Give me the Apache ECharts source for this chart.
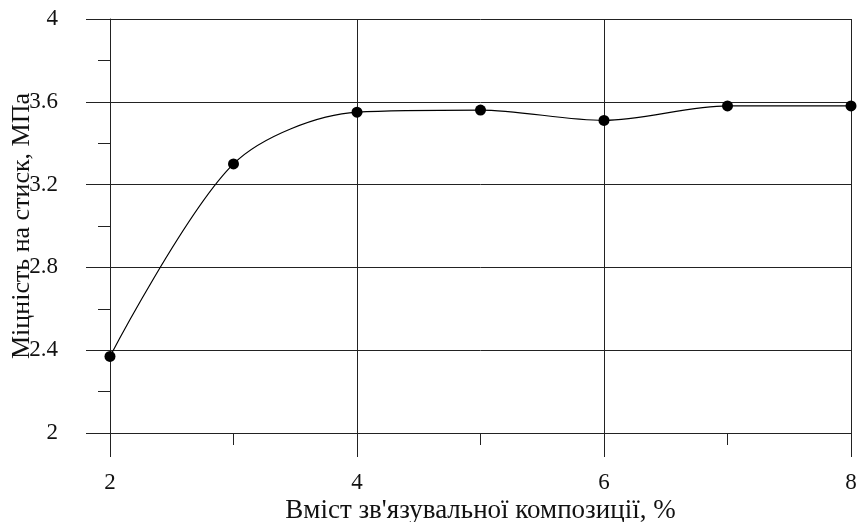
<!DOCTYPE html>
<html>
<head>
<meta charset="utf-8">
<script src="https://cdn.jsdelivr.net/npm/echarts@6/dist/echarts.min.js"></script>
<style>html,body{margin:0;padding:0;background:#fff}#c{width:858px;height:522px}</style>
</head>
<body>
<div id="c"></div>
<script>
const xValues = [2, 3, 4, 5, 6, 7, 8];
const strength = [2.37, 3.30, 3.55, 3.56, 3.51, 3.58, 3.58];
const xTitle = "Вміст зв'язувальної композиції, %";
const yTitle = "Міцність на стиск, МПа";

const chart = echarts.init(document.getElementById('c'), null, {renderer: 'canvas'});
const font = 'Liberation Serif';
const lineCol = '#222';
chart.setOption({
  animation: false,
  backgroundColor: '#fff',
  grid: {left: 110, right: 7, top: 19, bottom: 89, containLabel: false, outerBoundsMode: 'none'},
  xAxis: {
    type: 'value', min: 2, max: 8, interval: 2,
    name: xTitle, nameLocation: 'middle', nameGap: 64, nameMoveOverlap: false,
    nameTextStyle: {fontFamily: font, fontSize: 27, color: '#111'},
    axisLine: {show: true, lineStyle: {color: lineCol, width: 1}},
    axisTick: {show: true, length: 24, lineStyle: {color: lineCol, width: 1}},
    minorTick: {show: true, splitNumber: 2, length: 12, lineStyle: {color: lineCol, width: 1}},
    axisLabel: {fontFamily: font, fontSize: 23, color: '#111', margin: 38},
    splitLine: {show: true, lineStyle: {color: lineCol, width: 1}}
  },
  yAxis: {
    type: 'value', min: 2, max: 4, interval: 0.4,
    name: yTitle, nameLocation: 'middle', nameGap: 75, nameMoveOverlap: false,
    nameTextStyle: {fontFamily: font, fontSize: 26, color: '#111'},
    axisLine: {show: true, lineStyle: {color: lineCol, width: 1}},
    axisTick: {show: true, length: 24, lineStyle: {color: lineCol, width: 1}},
    minorTick: {show: true, splitNumber: 2, length: 12, lineStyle: {color: lineCol, width: 1}},
    axisLabel: {fontFamily: font, fontSize: 23, color: '#111', margin: 52,
      formatter: v => String(Math.round(v * 10) / 10)},
    splitLine: {show: true, lineStyle: {color: lineCol, width: 1}}
  },
  series: [{
    type: 'line',
    data: xValues.map((x, i) => [x, strength[i]]),
    smooth: 0.3,
    symbol: 'circle', symbolSize: 11,
    itemStyle: {color: '#000'},
    lineStyle: {color: '#000', width: 1.2}
  }]
});
</script>
</body>
</html>
